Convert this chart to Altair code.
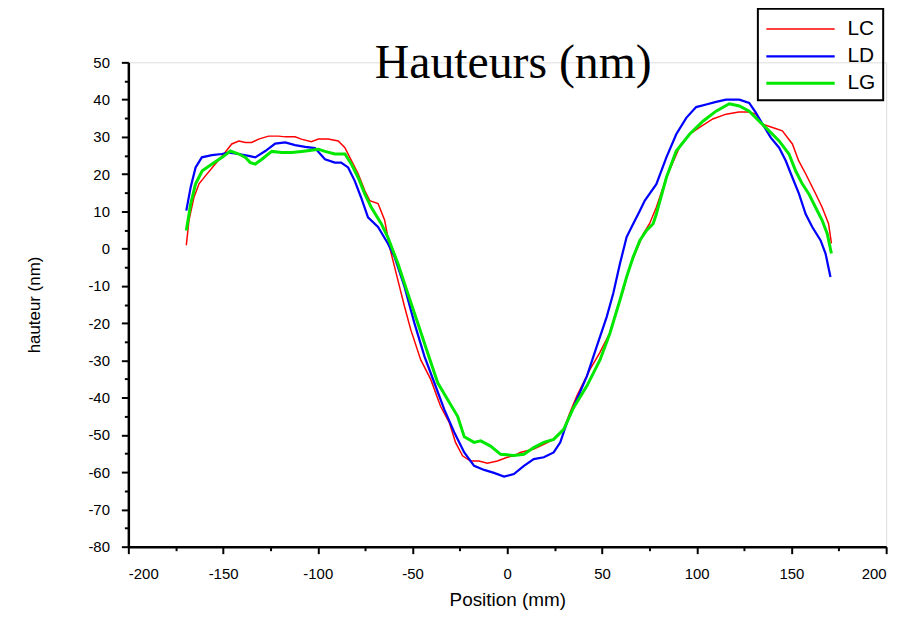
import altair as alt
import pandas as pd

# LC (red)
x_lc = [-169.4, -168.0, -165.4, -162.7, -159.2, -154.0, -149.6, -145.4, -141.7, -138.2, -134.9, -131.2,
        -126.0, -120.7, -117.2, -112.0, -108.7, -103.4, -99.7, -94.5, -89.2, -85.7, -83.1, -78.7, -75.2,
        -72.6, -68.2, -64.7, -61.9, -57.7, -54.2, -50.9, -45.7, -40.4, -35.2, -30.6, -27.3, -23.6, -19.4,
        -14.9, -10.5, -5.2, 0.0, 3.5, 6.8, 14.0, 19.3, 24.5, 29.8, 33.1, 36.7, 43.6, 48.8, 54.1, 57.7,
        61.3, 64.6, 68.2, 71.8, 75.1, 78.7, 84.0, 90.8, 96.1, 101.3, 108.5, 115.5, 122.3, 127.6, 131.2,
        134.8, 140.0, 145.2, 150.5, 153.8, 157.5, 162.7, 166.2, 169.6, 171.1]
y_lc = [0.9, 7.6, 13.7, 17.4, 19.6, 22.8, 25.4, 28.1, 28.9, 28.5, 28.5, 29.4,
        30.2, 30.2, 30.0, 30.0, 29.4, 28.7, 29.4, 29.4, 28.9, 27.1, 24.5, 20.1, 15.6,
        12.9, 12.1, 7.6, 0.0, -8.5, -15.6, -21.8, -29.8, -35.1, -42.3, -46.7, -52.0, -55.6, -57.0,
        -57.0, -57.6, -57.0, -56.0, -55.6, -54.7, -53.8, -52.5, -51.2, -48.5, -44.0, -39.6, -32.5, -28.0, -22.7, -16.5,
        -11.1, -4.9, -0.5, 4.0, 6.7, 11.1, 19.1, 27.1, 30.7, 32.5, 34.8, 36.1, 36.7, 36.7, 36.1,
        33.4, 32.5, 31.6, 28.1, 23.6, 20.1, 14.8, 11.1, 6.7, 1.4]

# LD (blue)
x_ld = [-169.4, -167.1, -164.5, -161.2, -155.9, -150.7, -147.0, -141.7, -136.5, -133.0, -127.7, -122.5,
        -117.2, -112.0, -106.7, -101.5, -96.2, -91.0, -87.7, -84.0, -80.5, -77.2, -73.5, -68.2, -63.0,
        -59.5, -54.2, -49.0, -43.7, -38.5, -33.2, -28.0, -22.7, -17.5, -12.2, -7.0, -1.7, 3.5, 8.8, 14.0,
        19.3, 24.5, 28.0, 31.5, 36.7, 42.0, 47.2, 52.5, 56.0, 59.5, 63.0, 66.5, 70.0, 72.6, 78.7, 84.0,
        89.2, 94.5, 99.7, 105.0, 110.2, 115.5, 122.5, 127.7, 131.2, 134.8, 139.1, 143.5, 147.0, 150.5,
        154.0, 157.5, 161.0, 165.4, 168.0, 170.6]
y_ld = [10.2, 16.5, 21.8, 24.5, 25.1, 25.4, 25.8, 25.4, 24.9, 24.5, 26.2, 28.2,
        28.5, 27.8, 27.3, 27.0, 24.0, 23.1, 23.1, 21.8, 18.2, 13.8, 8.4, 5.8, 1.4,
        -2.2, -10.3, -20.0, -28.9, -36.0, -43.2, -49.3, -54.7, -58.3, -59.4, -60.2, -61.2, -60.5, -58.3, -56.5,
        -56.0, -54.7, -52.0, -46.7, -40.5, -34.3, -26.3, -18.3, -11.9, -4.0, 3.1, 6.7, 10.2, 12.9, 17.3, 24.5,
        30.7, 35.1, 38.0, 38.7, 39.4, 40.0, 40.0, 39.1, 36.5, 33.4, 29.8, 27.1, 23.6, 19.1,
        14.7, 9.3, 5.8, 2.2, -1.3, -7.6]

# LG (green)
x_lg = [-169.4, -167.1, -164.5, -161.0, -155.8, -150.5, -146.1, -141.7, -138.2, -135.6, -133.0, -129.5,
        -124.3, -119.0, -113.8, -108.5, -103.3, -99.7, -96.2, -91.0, -85.7, -82.3, -78.7, -75.2, -71.8,
        -66.5, -63.0, -57.7, -52.5, -47.2, -42.0, -36.7, -31.5, -26.2, -22.7, -17.5, -14.0, -8.8, -3.5,
        3.5, 8.8, 14.0, 19.3, 24.5, 29.8, 35.0, 42.0, 49.0, 54.2, 59.5, 63.0, 66.5, 70.0, 73.5, 77.0,
        78.7, 84.0, 89.2, 96.2, 103.3, 110.2, 117.2, 122.5, 127.7, 133.0, 138.2, 143.5, 148.7, 152.2,
        155.7, 159.2, 162.7, 166.2, 168.9, 171.1]
y_lg = [4.9, 12.0, 17.4, 20.9, 22.7, 24.5, 26.2, 25.4, 24.5, 23.1, 22.7, 24.0,
        26.1, 25.8, 25.8, 26.1, 26.4, 26.7, 26.1, 25.4, 25.4, 22.7, 19.1, 14.7, 11.1,
        6.7, 3.0, -4.0, -12.0, -20.0, -28.0, -36.0, -40.5, -45.0, -50.5, -52.0, -51.6, -53.0, -55.2,
        -55.5, -55.2, -53.4, -52.0, -51.2, -48.5, -42.7, -36.9, -29.8, -22.7, -13.8, -7.6, -2.2, 2.2, 4.9, 6.7,
        9.3, 19.1, 26.2, 30.7, 34.2, 36.9, 38.9, 38.3, 36.9, 34.2, 31.6, 28.9, 25.4, 20.9,
        17.4, 14.7, 11.1, 7.6, 4.0, -1.3]

series = ["LC", "LD", "LG"]
colors = ["#ff0000", "#0000ff", "#00e800"]
widths = [1.5, 3.0, 2.2]

x_major = [-200, -150, -100, -50, 0, 50, 100, 150, 200]
x_minor = [-175, -125, -75, -25, 25, 75, 125, 175]
y_major = [50, 40, 30, 20, 10, 0, -10, -20, -30, -40, -50, -60, -70, -80]
y_minor = [45, 35, 25, 15, 5, -5, -15, -25, -35, -45, -55, -65, -75]

frames = []
for name, xs, ys in [("LC", x_lc, y_lc), ("LD", x_ld, y_ld), ("LG", x_lg, y_lg)]:
    frames.append(pd.DataFrame({"x": xs, "y": ys, "serie": name, "order": range(len(xs))}))
df = pd.concat(frames, ignore_index=True)

FONT = "Liberation Sans"
LABEL_EXPR = "'' + datum.value"

xscale = alt.Scale(domain=[-200, 200], nice=False, zero=False)
yscale = alt.Scale(domain=[-80, 50], nice=False, zero=False)

main = alt.Chart(df).mark_line(interpolate="linear").encode(
    x=alt.X("x:Q", scale=xscale, title="Position (mm)",
            axis=alt.Axis(values=x_major, tickSize=7, tickWidth=2, domainWidth=2.5,
                          domainColor="black", tickColor="black", labelFont=FONT,
                          labelFontSize=15, labelColor="black", labelPadding=13,
                          labelExpr=LABEL_EXPR,
                          titleFont=FONT, titleFontSize=19, titleFontWeight="normal",
                          titleColor="black", titlePadding=9, grid=False, orient="bottom")),
    y=alt.Y("y:Q", scale=yscale, title="hauteur (nm)",
            axis=alt.Axis(values=y_major, tickSize=7, tickWidth=2, domainWidth=2.5,
                          domainColor="black", tickColor="black", labelFont=FONT,
                          labelFontSize=15, labelColor="black", labelPadding=12,
                          labelExpr=LABEL_EXPR,
                          titleFont=FONT, titleFontSize=17, titleFontWeight="normal",
                          titleColor="black", titlePadding=45, grid=False, orient="left")),
    color=alt.Color("serie:N", scale=alt.Scale(domain=series, range=colors),
                    legend=alt.Legend(title=None)),
    strokeWidth=alt.StrokeWidth("serie:N", scale=alt.Scale(domain=series, range=widths),
                                legend=alt.Legend(title=None)),
    order="order:Q",
)

minor = alt.Chart(df).mark_point(opacity=0).encode(
    x=alt.X("x:Q", scale=xscale, title=None,
            axis=alt.Axis(values=x_minor, tickSize=4, tickWidth=2, labels=False, domain=False,
                          tickColor="black", grid=False, orient="bottom")),
    y=alt.Y("y:Q", scale=yscale, title=None,
            axis=alt.Axis(values=y_minor, tickSize=4, tickWidth=2, labels=False, domain=False,
                          tickColor="black", grid=False, orient="left")),
)

chart = alt.layer(main, minor).resolve_axis(x="independent", y="independent").properties(
    width=762, height=487,
    title=alt.TitleParams("Hauteurs (nm)", font="Liberation Serif", fontSize=48,
                          fontWeight="normal", color="black", anchor="middle",
                          offset=-81, dx=6),
    autosize=alt.AutoSizeParams(type="none"),
    padding={"left": 121, "top": 53, "right": 30, "bottom": 62},
).configure_view(stroke=None).configure(background="white").configure_legend(
    orient="none", legendX=633, legendY=-54, strokeColor="black", strokeWidth=2,
    padding=7, symbolSize=625, symbolType="M-1,0H4.5", labelFont=FONT, labelFontSize=21,
    labelColor="black", rowPadding=3, labelOffset=55,
)

chart.save("out.html", embed_options={"renderer": "svg", "actions": False})
